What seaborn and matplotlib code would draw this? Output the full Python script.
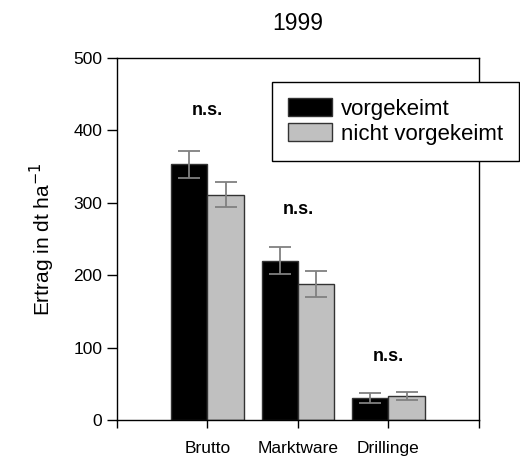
import numpy as np
import pandas as pd
import matplotlib
matplotlib.use('Agg')
import matplotlib.pyplot as plt
import seaborn as sns
from matplotlib.patches import Patch

sns.set_style('white')
plt.rcParams['font.family'] = ['Liberation Sans', 'DejaVu Sans']
plt.rcParams['text.color'] = 'black'
plt.rcParams['axes.labelcolor'] = 'black'
plt.rcParams['xtick.color'] = 'black'
plt.rcParams['ytick.color'] = 'black'

### Daten
kategorien = ['Brutto', 'Marktware', 'Drillinge']
gruppen = ['vorgekeimt', 'nicht vorgekeimt']
ertrag_vorgekeimt = [353, 220, 30]
ertrag_nicht = [311, 188, 33]
fehler_vorgekeimt = [19, 19, 7]
fehler_nicht = [17, 18, 6]
signifikanz = ['n.s.', 'n.s.', 'n.s.']
sig_hoehe = [427, 290, 87]

df = pd.DataFrame({
    'Kategorie': kategorien * 2,
    'Gruppe': [gruppen[0]] * 3 + [gruppen[1]] * 3,
    'Ertrag': ertrag_vorgekeimt + ertrag_nicht,
    'Fehler': fehler_vorgekeimt + fehler_nicht,
})

farben = {'vorgekeimt': '#000000', 'nicht vorgekeimt': '#c0c0c0'}

fig = plt.figure(figsize=(5.2, 4.59), dpi=100)
ax = fig.add_axes([0.225, 0.085, 0.696, 0.789])

sns.barplot(data=df, x='Kategorie', y='Ertrag', hue='Gruppe', order=kategorien,
            hue_order=gruppen, palette=farben, errorbar=None, width=0.8,
            edgecolor='#333333', linewidth=1, legend=False, ax=ax)

# Fehlerbalken an den Balkenmitten
for container, g in zip(ax.containers, gruppen):
    err = df[df['Gruppe'] == g].set_index('Kategorie').loc[kategorien, 'Fehler'].values
    xs = [p.get_x() + p.get_width() / 2 for p in container]
    hs = [p.get_height() for p in container]
    ax.errorbar(xs, hs, yerr=err, fmt='none', ecolor='#808080', elinewidth=1.3,
                capsize=8, capthick=1.3, zorder=5)

for i, (txt, h) in enumerate(zip(signifikanz, sig_hoehe)):
    ax.text(i, h, txt, ha='center', va='center', fontsize=13, fontweight='bold')

ax.set_xlim(-1, 3)
ax.set_ylim(0, 500)
ax.set_xticks([-1, 0, 1, 2, 3])
ax.set_xticklabels([''] + kategorien + [''], fontsize=12.5)
ax.set_yticks([0, 100, 200, 300, 400, 500])
ax.tick_params(axis='y', labelsize=12.5, direction='out', length=7, width=1, left=True)
ax.tick_params(axis='x', direction='out', length=6, width=1, bottom=True, pad=9)
ax.set_xlabel('')
ax.set_ylabel('Ertrag in dt ha$^{-1}$', fontsize=15, labelpad=12)
ax.set_title('1999', fontsize=16.5, pad=20)

for s in ax.spines.values():
    s.set_visible(True)
    s.set_color('black')
    s.set_linewidth(1)

handles = [Patch(facecolor=farben[g], edgecolor='#333333', label=g) for g in gruppen]
leg = ax.legend(handles=handles, loc='upper left', bbox_to_anchor=(0.523, 0.821),
                bbox_transform=fig.transFigure, fontsize=16, frameon=True,
                fancybox=False, framealpha=1, edgecolor='black', borderpad=0.72,
                handlelength=2.0, handleheight=0.88, handletextpad=0.4,
                labelspacing=0.15, borderaxespad=0)
leg.get_frame().set_linewidth(1)
leg.set_zorder(10)

fig.savefig('out.png', dpi=100)
